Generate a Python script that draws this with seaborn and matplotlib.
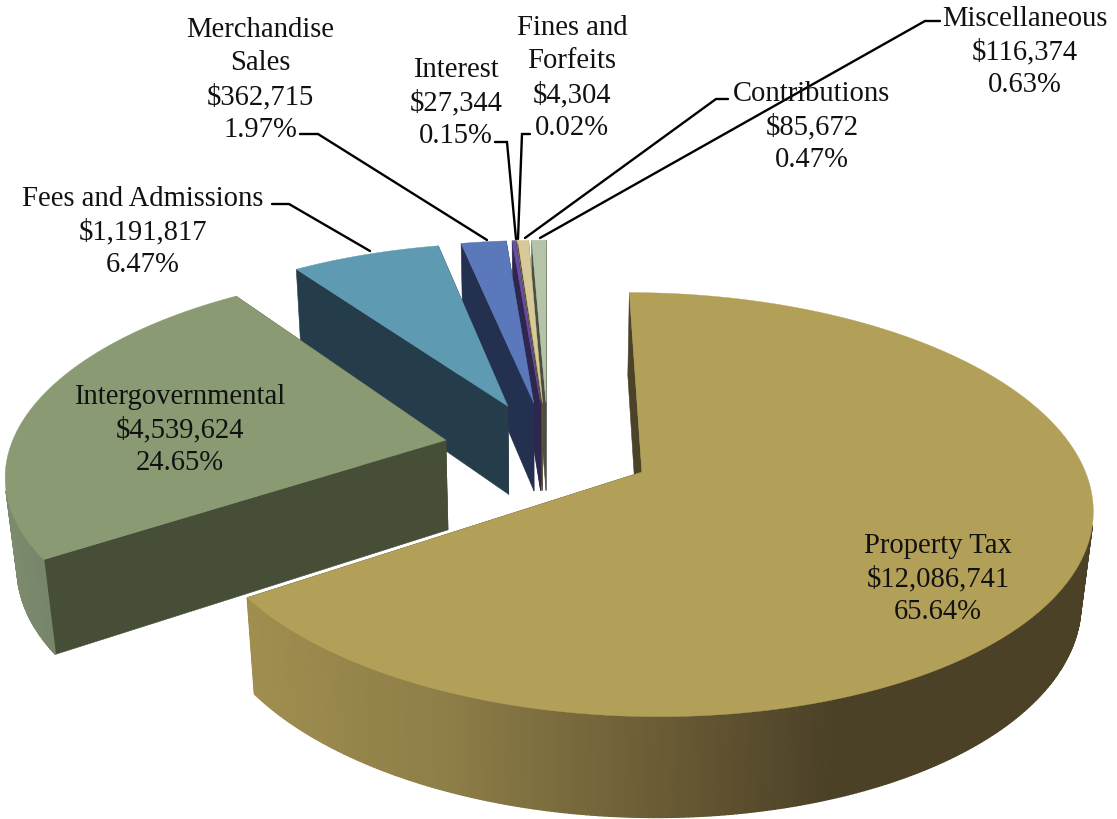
import numpy as np
import seaborn as sns
import matplotlib
matplotlib.use("Agg")
import matplotlib.pyplot as plt
from matplotlib.colors import to_rgb

categories = ["Property Tax", "Intergovernmental", "Fees and Admissions", "Merchandise\nSales",
              "Interest", "Fines and\nForfeits", "Contributions", "Miscellaneous"]
values = [12086741, 4539624, 1191817, 362715, 27344, 4304, 85672, 116374]
top_colors = ["#B3A058", "#8A9A73", "#5E9BB2", "#5A78BA", "#6A4FA5", "#8A7A50", "#D8C99A", "#B5C4A8"]
face_colors = ["#4A4327", "#474E38", "#253C4A", "#24304F", "#2F2650", "#3A3A2A", "#5A5238", "#4A5040"]

sns.set_theme(style="white")
plt.rcParams["font.family"] = ["Liberation Serif", "DejaVu Serif"]

CX, CY, A, B, H, K, M, EXPLODE = 548, 450, 436, 200, 92, 0.151, 0.022, 0.24


def proj(u, v, d=0.0):
    w = 1 + K * v + M * d
    return CX + A * u / w, CY + (-B * v + H * d) / w


def wall_color(x, i):
    if i == 0:
        stops_x = [255, 450, 650, 830, 1100]
        stops_c = ["#A08E4F", "#8D7D47", "#6C5D36", "#4B4127", "#4A4127"]
    else:
        stops_x = [0, 60]
        stops_c = ["#7E8D6C", "#75846A"] if i == 1 else [top_colors[i], top_colors[i]]
    rgb = np.array([to_rgb(c) for c in stops_c])
    return tuple(np.interp(x, stops_x, rgb[:, k]) for k in range(3))


fig = plt.figure(figsize=(11.17, 8.20), dpi=100)
ax = fig.add_axes([0, 0, 1, 1])
ax.set_xlim(0, 1117)
ax.set_ylim(820, 0)
ax.axis("off")

vals = np.array(values, dtype=float)
fractions = vals / vals.sum()
edges = np.concatenate([[0], np.cumsum(fractions)]) * 2 * np.pi

for i in range(len(vals) - 1, -1, -1):
    t0, t1 = edges[i], edges[i + 1]
    mid = (t0 + t1) / 2
    ou, ov = EXPLODE * np.sin(mid), EXPLODE * np.cos(mid)
    th = np.linspace(t0, t1, max(4, int(720 * fractions[i]) + 2))
    ru, rv = ou + np.sin(th), ov + np.cos(th)
    tx, ty = proj(ru, rv)
    bx, by = proj(ru, rv, 1.0)
    ax0, ay0 = proj(ou, ov)
    ax1, ay1 = proj(ou, ov, 1.0)
    # cut faces
    for j in (0, -1):
        ax.fill([ax0, tx[j], bx[j], ax1], [ay0, ty[j], by[j], ay1],
                color=face_colors[i], lw=0.4, zorder=10 + (8 - i))
    # rim wall, front-facing strips only
    for j in range(len(th) - 1):
        qx = np.array([tx[j], tx[j + 1], bx[j + 1], bx[j]])
        qy = np.array([ty[j], ty[j + 1], by[j + 1], by[j]])
        area = np.sum(qx * np.roll(qy, -1) - np.roll(qx, -1) * qy)
        if area < 0:
            ax.fill(qx, qy, color=wall_color(qx.mean(), i), lw=1.0, zorder=10 + (8 - i))
    # top surface
    ax.fill(np.r_[ax0, tx], np.r_[ay0, ty], color=top_colors[i], lw=0.3, zorder=10 + (8 - i))

label_pos = [(938, 579), (180, 430), (143, 232), (260, 80), (456, 103), (572, 78), (812, 127), (1025, 52)]
for name, val, frac, (lx, ly) in zip(categories, values, fractions, label_pos):
    ax.text(lx, ly, f"{name}\n${val:,}\n{frac * 100:.2f}%", ha="center", va="center",
            fontsize=20.6, color="#111111", linespacing=1.35, zorder=40)

leaders = [
    ([272, 289, 370], [205, 205, 252]),
    ([300, 318, 487], [135, 135, 241]),
    ([495, 507, 516], [143, 143, 240]),
    ([530, 522, 518], [135, 135, 240]),
    ([728, 716, 525], [100, 100, 239]),
    ([940, 925, 540], [22, 22, 239]),
]
for xs, ys in leaders:
    ax.plot(xs, ys, color="black", lw=1.7, zorder=30, solid_joinstyle="miter")

fig.savefig("out.png", dpi=100, facecolor="white")
